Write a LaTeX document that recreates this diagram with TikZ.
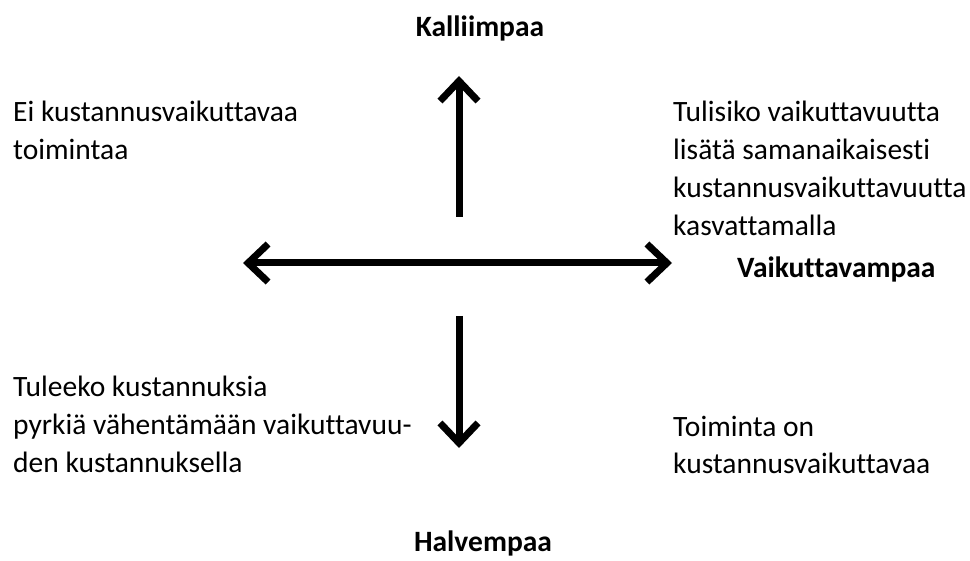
\documentclass[tikz,border=0pt]{standalone}
\usepackage{fontspec}
\setmainfont{Carlito}[Ligatures={NoCommon}]
\usetikzlibrary{arrows.meta}
\newcommand\txtblk[1]{\begin{tabular}[t]{@{}l@{}}#1\end{tabular}}
\begin{document}
\begin{tikzpicture}[x=1pt,y=-1pt,
  lbl/.style={inner sep=0pt, anchor=base west, font=\fontsize{29.5}{38}\selectfont},
  ttl/.style={inner sep=0pt, anchor=base, font=\fontsize{29.5}{38}\selectfont\bfseries},
  barb/.tip={Straight Barb[length=20pt,width=38pt,line width=7pt]},
  bigarrow/.style={line width=7pt, -barb}]
\useasboundingbox[fill=white] (0,0) rectangle (970,561);
% arrow end points
\coordinate (upbase) at (459,217);
\coordinate (uptip) at (459,76);
\coordinate (downbase) at (459,316);
\coordinate (downtip) at (459,448);
\coordinate (lefttip) at (243,263);
\coordinate (righttip) at (672,263);
\draw[bigarrow] (upbase) -- (uptip);
\draw[bigarrow] (downbase) -- (downtip);
\draw[line width=7pt, barb-barb] (lefttip) -- (righttip);
% titles
\node[ttl] (kalliimpaa) at (480,37) {Kalliimpaa};
\node[ttl] (halvempaa) at (483,551) {Halvempaa};
\node[lbl, font=\fontsize{29.5}{38}\selectfont\bfseries] (vaikuttavampaa) at (737,278) {Vaikuttavampaa};
% quadrant texts
\node[lbl] (q1) at (13,122) {\txtblk{Ei kustannusvaikuttavaa\\toimintaa}};
\node[lbl] (q2) at (673,122) {\txtblk{Tulisiko vaikuttavuutta\\lisätä samanaikaisesti\\kustannusvaikuttavuutta\\kasvattamalla}};
\node[lbl] (q3) at (13,397) {\txtblk{Tuleeko kustannuksia\\pyrkiä vähentämään vaikuttavuu-\\den kustannuksella}};
\node[lbl] (q4) at (673,436) {\txtblk{Toiminta on\\kustannusvaikuttavaa}};
\end{tikzpicture}
\end{document}
